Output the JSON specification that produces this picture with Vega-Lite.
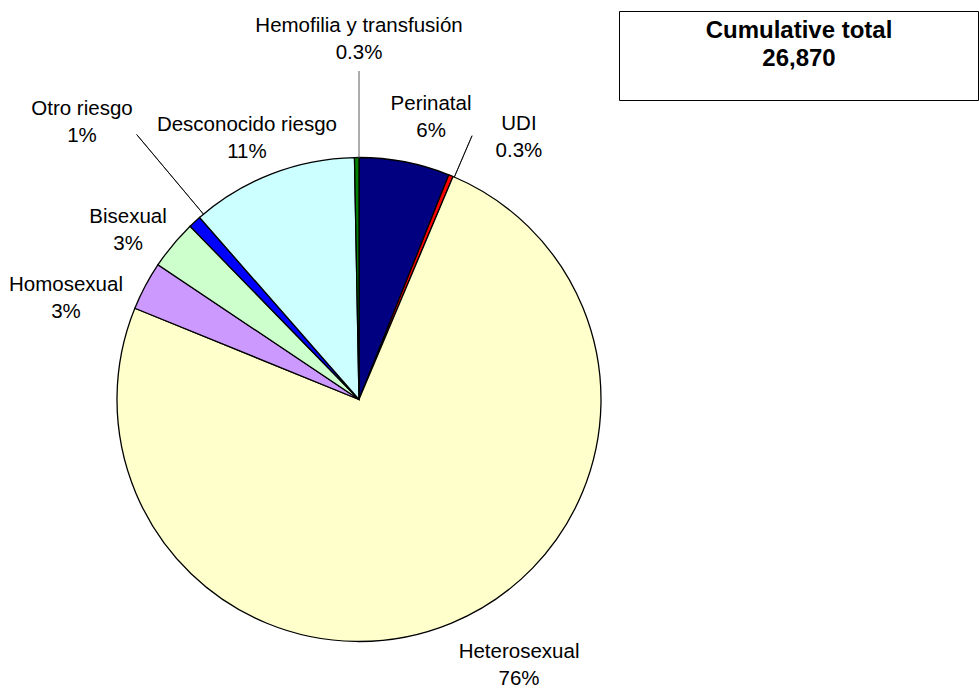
{
  "$schema": "https://vega.github.io/schema/vega-lite/v6.json",
  "width": 718,
  "height": 597,
  "autosize": {"type": "none"},
  "padding": {"left": 0, "top": 101, "right": 261, "bottom": 0},
  "background": "white",
  "config": {"view": {"stroke": null}, "font": "Liberation Sans"},
  "data": {
    "values": [
      {"riesgo": "Perinatal", "n": 1626, "orden": 1, "etiqueta": "Perinatal\n6%"},
      {"riesgo": "UDI", "n": 81, "orden": 2, "etiqueta": "UDI\n0.3%"},
      {"riesgo": "Heterosexual", "n": 20099, "orden": 3, "etiqueta": "Heterosexual\n76%"},
      {"riesgo": "Homosexual", "n": 873, "orden": 4, "etiqueta": "Homosexual\n3%"},
      {"riesgo": "Bisexual", "n": 887, "orden": 5, "etiqueta": "Bisexual\n3%"},
      {"riesgo": "Otro riesgo", "n": 228, "orden": 6, "etiqueta": "Otro riesgo\n1%"},
      {"riesgo": "Desconocido riesgo", "n": 2996, "orden": 7, "etiqueta": "Desconocido riesgo\n11%"},
      {"riesgo": "Hemofilia y transfusión", "n": 80, "orden": 8, "etiqueta": "Hemofilia y transfusión\n0.3%"}
    ]
  },
  "encoding": {
    "theta": {"field": "n", "type": "quantitative", "stack": true},
    "order": {"field": "orden", "type": "quantitative"}
  },
  "layer": [
    {
      "mark": {"type": "arc", "outerRadius": 242, "stroke": "black", "strokeWidth": 1.3},
      "encoding": {
        "color": {
          "field": "riesgo",
          "type": "nominal",
          "scale": {
            "domain": ["Perinatal", "UDI", "Heterosexual", "Homosexual", "Bisexual", "Otro riesgo", "Desconocido riesgo", "Hemofilia y transfusión"],
            "range": ["#000080", "#FF0000", "#FFFFCC", "#CC99FF", "#CCFFCC", "#0000FF", "#CCFFFF", "#008000"]
          },
          "legend": {
            "values": ["Perinatal"],
            "orient": "none",
            "legendX": 619,
            "legendY": -90,
            "title": ["Cumulative total", "26,870"],
            "titleFont": "Liberation Sans",
            "titleFontSize": 24,
            "titleFontWeight": "bold",
            "titleColor": "black",
            "titleAnchor": "middle",
            "titleAlign": "center",
            "titleLimit": 400,
            "titleLineHeight": 28,
            "titlePadding": 20,
            "strokeColor": "black",
            "fillColor": "white",
            "padding": 8,
            "symbolOpacity": 0,
            "symbolSize": 0,
            "symbolStrokeWidth": 0,
            "labelExpr": "''",
            "labelFontSize": 1,
            "labelOffset": 342
          }
        }
      }
    },
    {
      "mark": {"type": "arc", "innerRadius": 242, "outerRadius": 328.5, "padAngle": 0.2, "thetaOffset": 0.0094, "fillOpacity": 0, "stroke": "#808080", "strokeWidth": 1.3},
      "encoding": {"strokeOpacity": {"condition": {"test": "datum.riesgo === 'Hemofilia y transfusión'", "value": 1}, "value": 0}}
    },
    {
      "mark": {"type": "arc", "innerRadius": 242, "outerRadius": 287, "padAngle": 0.2, "thetaOffset": 0.0152, "fillOpacity": 0, "stroke": "black", "strokeWidth": 0.8},
      "encoding": {"strokeOpacity": {"condition": {"test": "datum.riesgo === 'UDI'", "value": 1}, "value": 0}}
    },
    {
      "mark": {"type": "arc", "innerRadius": 242, "outerRadius": 346, "padAngle": 0.2, "thetaOffset": 0.0478, "fillOpacity": 0, "stroke": "black", "strokeWidth": 0.8},
      "encoding": {"strokeOpacity": {"condition": {"test": "datum.riesgo === 'Otro riesgo'", "value": 1}, "value": 0}}
    },
    {
      "mark": {"type": "text", "radius": 360.5, "thetaOffset": 0.0094, "dy": -13.5, "fontSize": 20.5, "lineBreak": "\n", "lineHeight": 27, "align": "center", "baseline": "middle", "color": "black"},
      "encoding": {"text": {"condition": {"test": "datum.riesgo === 'Hemofilia y transfusión'", "field": "etiqueta"}, "value": ""}}
    },
    {
      "mark": {"type": "text", "radius": 290.6, "thetaOffset": 0.0604, "dy": -13.5, "fontSize": 20.5, "lineBreak": "\n", "lineHeight": 27, "align": "center", "baseline": "middle", "color": "black"},
      "encoding": {"text": {"condition": {"test": "datum.riesgo === 'Perinatal'", "field": "etiqueta"}, "value": ""}}
    },
    {
      "mark": {"type": "text", "radius": 307, "thetaOffset": 0.1583, "dy": -13.5, "fontSize": 20.5, "lineBreak": "\n", "lineHeight": 27, "align": "center", "baseline": "middle", "color": "black"},
      "encoding": {"text": {"condition": {"test": "datum.riesgo === 'UDI'", "field": "etiqueta"}, "value": ""}}
    },
    {
      "mark": {"type": "text", "radius": 310.8, "thetaOffset": -0.1485, "dy": -13.5, "fontSize": 20.5, "lineBreak": "\n", "lineHeight": 27, "align": "center", "baseline": "middle", "color": "black"},
      "encoding": {"text": {"condition": {"test": "datum.riesgo === 'Heterosexual'", "field": "etiqueta"}, "value": ""}}
    },
    {
      "mark": {"type": "text", "radius": 309.8, "thetaOffset": -0.1581, "dy": -13.5, "fontSize": 20.5, "lineBreak": "\n", "lineHeight": 27, "align": "center", "baseline": "middle", "color": "black"},
      "encoding": {"text": {"condition": {"test": "datum.riesgo === 'Homosexual'", "field": "etiqueta"}, "value": ""}}
    },
    {
      "mark": {"type": "text", "radius": 286.2, "thetaOffset": -0.0627, "dy": -13.5, "fontSize": 20.5, "lineBreak": "\n", "lineHeight": 27, "align": "center", "baseline": "middle", "color": "black"},
      "encoding": {"text": {"condition": {"test": "datum.riesgo === 'Bisexual'", "field": "etiqueta"}, "value": ""}}
    },
    {
      "mark": {"type": "text", "radius": 392.1, "thetaOffset": -0.0386, "dy": -13.5, "fontSize": 20.5, "lineBreak": "\n", "lineHeight": 27, "align": "center", "baseline": "middle", "color": "black"},
      "encoding": {"text": {"condition": {"test": "datum.riesgo === 'Otro riesgo'", "field": "etiqueta"}, "value": ""}}
    },
    {
      "mark": {"type": "text", "radius": 284.5, "thetaOffset": -0.036, "dy": -13.5, "fontSize": 20.5, "lineBreak": "\n", "lineHeight": 27, "align": "center", "baseline": "middle", "color": "black"},
      "encoding": {"text": {"condition": {"test": "datum.riesgo === 'Desconocido riesgo'", "field": "etiqueta"}, "value": ""}}
    }
  ]
}
